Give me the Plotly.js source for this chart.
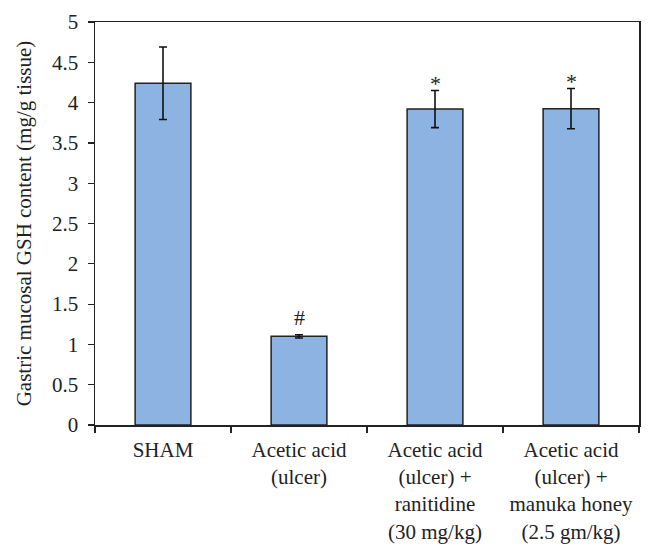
<!DOCTYPE html>
<html>
<head>
<meta charset="utf-8">
<script src="https://cdn.plot.ly/plotly-3.0.1.min.js"></script>
<style>html,body{margin:0;padding:0;background:#fff;}#chart{width:656px;height:555px;}</style>
</head>
<body>
<div id="chart"></div>
<script>
var categories = ["SHAM", "Acetic acid<br>(ulcer)", "Acetic acid<br>(ulcer) +<br>ranitidine<br>(30 mg/kg)", "Acetic acid<br>(ulcer) +<br>manuka honey<br>(2.5 gm/kg)"];
var values = [4.24, 1.10, 3.92, 3.925];
var errors = [0.45, 0.02, 0.23, 0.25];
var marks = ["", "#", "*", "*"];

var font = "Liberation Serif, Times New Roman, serif";
var markShift = {"#": 3, "*": -7};

var annotations = [];
for (var i = 0; i < categories.length; i++) {
  if (!marks[i]) continue;
  annotations.push({
    x: categories[i], y: values[i] + errors[i], xref: "x", yref: "y",
    text: marks[i], showarrow: false, yanchor: "bottom", yshift: markShift[marks[i]],
    font: {family: font, size: 22, color: "#222"}
  });
}

var trace = {
  type: "bar",
  x: categories,
  y: values,
  width: 0.41,
  marker: {color: "#8DB3E2", line: {color: "#222", width: 1.5}},
  error_y: {type: "data", array: errors, visible: true, color: "#111", thickness: 1.6, width: 4}
};

var layout = {
  width: 656, height: 555,
  margin: {l: 95, r: 17, t: 22, b: 130},
  paper_bgcolor: "#fff", plot_bgcolor: "#fff",
  showlegend: false,
  font: {family: font, size: 21, color: "#222"},
  xaxis: {
    type: "category", tickson: "boundaries", ticks: "outside", ticklen: 6, tickwidth: 1.2, tickcolor: "#222",
    showline: true, linecolor: "#222", linewidth: 1.5, mirror: true, showgrid: false,
    ticklabelstandoff: 5,
    tickfont: {family: font, size: 21, color: "#222"}
  },
  yaxis: {
    range: [0, 5], dtick: 0.5, ticks: "outside", ticklen: 6, tickwidth: 1.2, tickcolor: "#222",
    showline: true, linecolor: "#222", linewidth: 1.5, mirror: true, showgrid: false, zeroline: false,
    ticklabelstandoff: 5,
    tickfont: {family: font, size: 21, color: "#222"},
    title: {text: "Gastric mucosal GSH content (mg/g tissue)", font: {family: font, size: 21, color: "#222"}, standoff: 14}
  },
  annotations: annotations
};

Plotly.newPlot("chart", [trace], layout, {displayModeBar: false, staticPlot: true});
</script>
</body>
</html>
